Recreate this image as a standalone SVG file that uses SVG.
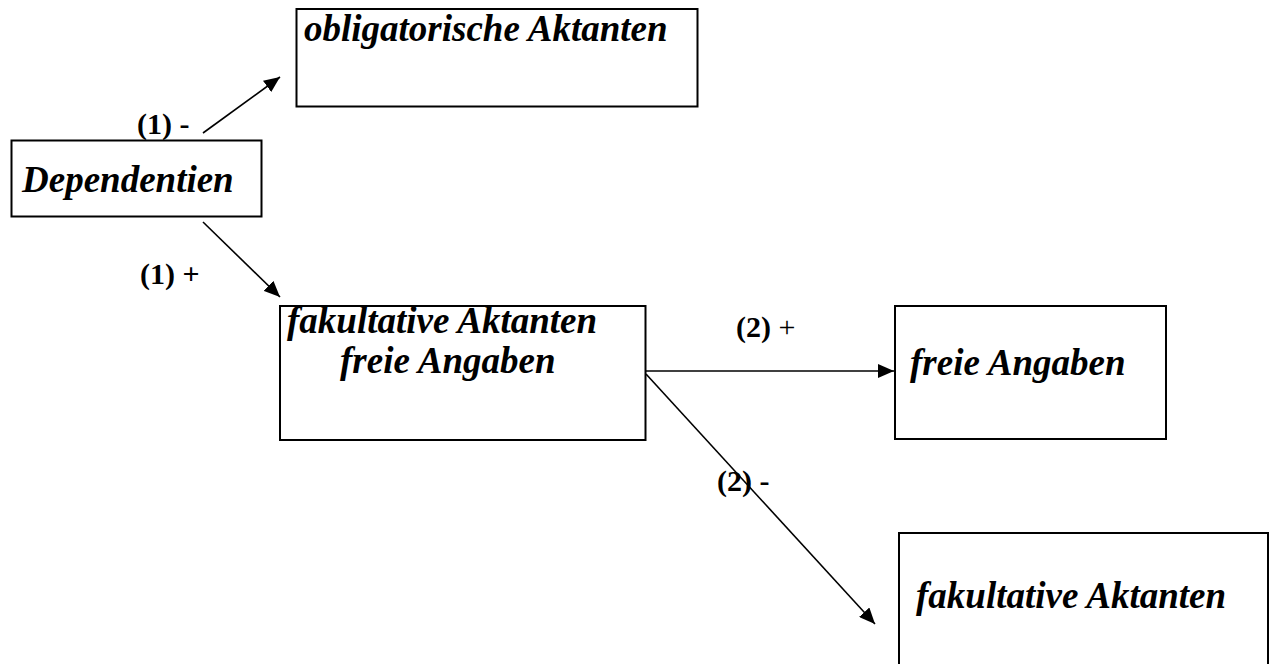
<svg xmlns="http://www.w3.org/2000/svg" width="1271" height="664" viewBox="0 0 1271 664">
  <style>
    .box { fill: #ffffff; stroke: #000000; stroke-width: 2; }
    .term { font-family: "Liberation Serif", "Times New Roman", serif; font-size: 37px; font-weight: bold; font-style: italic; fill: #000000; }
    .lbl { font-family: "Liberation Serif", "Times New Roman", serif; font-size: 30px; fill: #000000; }
    .b { font-weight: bold; }
    .edge { fill: none; stroke: #000000; stroke-width: 1.6; }
  </style>
  <defs>
    <marker id="arrow" markerUnits="userSpaceOnUse" markerWidth="18" markerHeight="14" refX="16" refY="7" orient="auto">
      <path d="M0,0 L16,7 L0,14 Z" fill="#000000"/>
    </marker>
  </defs>

  <rect width="1271" height="664" fill="#ffffff"/>

  <!-- root node -->
  <g id="dependentien">
    <rect class="box" x="11.5" y="140.5" width="250" height="76"/>
    <text class="term" x="22" y="192">Dependentien</text>
  </g>

  <!-- obligatory actants -->
  <g id="obligatorische-aktanten">
    <rect class="box" x="296.5" y="9" width="401" height="97.5"/>
    <text class="term" x="304" y="41">obligatorische Aktanten</text>
  </g>

  <!-- optional actants and free adjuncts -->
  <g id="fakultative-freie">
    <rect class="box" x="280" y="306" width="365.5" height="134"/>
    <text class="term" x="287" y="333">fakultative Aktanten</text>
    <text class="term" x="340" y="373">freie Angaben</text>
  </g>

  <!-- free adjuncts -->
  <g id="freie-angaben">
    <rect class="box" x="895" y="306" width="271" height="133"/>
    <text class="term" x="910" y="375">freie Angaben</text>
  </g>

  <!-- optional actants (box runs past the lower edge) -->
  <g id="fakultative-aktanten">
    <rect class="box" x="899" y="533" width="369" height="160"/>
    <text class="term" x="916" y="608">fakultative Aktanten</text>
  </g>

  <!-- connectors with their test labels -->
  <g id="connectors">
    <line class="edge" x1="203" y1="133" x2="280" y2="77" marker-end="url(#arrow)"/>
    <line class="edge" x1="203" y1="222" x2="280" y2="297" marker-end="url(#arrow)"/>
    <line class="edge" x1="646" y1="371" x2="894" y2="371" stroke-width="2" marker-end="url(#arrow)"/>
    <line class="edge" x1="646" y1="374" x2="875" y2="624" marker-end="url(#arrow)"/>

    <text class="lbl" x="137" y="134"><tspan class="b">(1)</tspan> <tspan class="b">-</tspan></text>
    <text class="lbl" x="140" y="284"><tspan class="b">(1)</tspan> <tspan class="b">+</tspan></text>
    <text class="lbl" x="736" y="337"><tspan class="b">(2)</tspan> +</text>
    <text class="lbl" x="717" y="491"><tspan class="b">(2)</tspan> <tspan class="b">-</tspan></text>
  </g>
</svg>
